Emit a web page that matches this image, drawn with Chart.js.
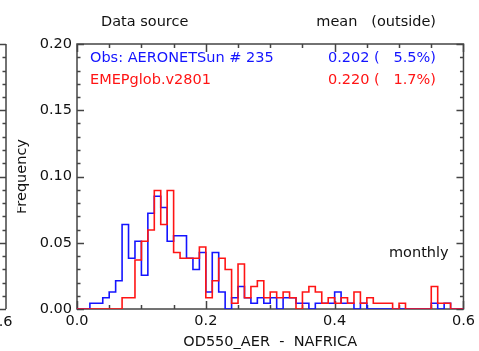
<!DOCTYPE html>
<html><head><meta charset="utf-8">
<script src="https://cdn.jsdelivr.net/npm/chart.js@4.4.1/dist/chart.umd.min.js"></script>
<style>html,body{margin:0;padding:0;background:#fff;overflow:hidden}</style>
</head><body>
<canvas id="c" width="479" height="351" style="display:block"></canvas>
<script>
// ---- data ----
const binWidth = 0.01;
const binStarts = Array.from({length: 60}, (_, i) => +(i * binWidth).toFixed(2));
const obsFreq = [
  0, 0, 0.0043, 0.0043, 0.0085, 0.0128, 0.0213, 0.0638, 0.0383, 0.0511,
  0.0255, 0.0723, 0.0851, 0.0766, 0.0511, 0.0553, 0.0553, 0.0383, 0.0298, 0.0426,
  0.0128, 0.0426, 0.0128, 0, 0.0085, 0.0170, 0.0085, 0.0043, 0.0085, 0.0043,
  0.0085, 0, 0.0085, 0.0085, 0.0043, 0.0043, 0, 0.0043, 0.0043, 0.0043,
  0.0128, 0.0043, 0.0043, 0, 0.0043, 0, 0, 0, 0, 0,
  0, 0, 0, 0, 0, 0.0043, 0, 0.0043, 0, 0
];
const modFreq = [
  0, 0, 0, 0, 0, 0, 0, 0.0085, 0.0085, 0.0370,
  0.0511, 0.0596, 0.0894, 0.0638, 0.0894, 0.0426, 0.0383, 0.0383, 0.0383, 0.0468,
  0.0085, 0.0213, 0.0383, 0.0298, 0.0043, 0.0340, 0.0085, 0.0170, 0.0213, 0.0085,
  0.0128, 0.0085, 0.0128, 0.0085, 0, 0.0128, 0.0170, 0.0128, 0.0043, 0.0085,
  0.0043, 0.0085, 0.0043, 0.0128, 0.0043, 0.0085, 0.0043, 0.0043, 0.0043, 0,
  0.0043, 0, 0, 0, 0, 0.0170, 0.0043, 0.0043, 0, 0
];
const seriesNames   = ['Obs: AERONETSun # 235', 'EMEPglob.v2801'];
const seriesMeans   = ['0.202', '0.220'];
const seriesOutside = ['5.5%', '1.7%'];
const seriesColors  = ['rgb(20,20,255)', 'rgb(255,20,20)'];
const yTickValues = [0, 0.05, 0.10, 0.15, 0.20];
const xTickValues = [0, 0.2, 0.4, 0.6];
const xTitle = 'OD550_AER  -  NAFRICA';
const yTitle = 'Frequency';
const headerLeft = 'Data source';
const headerRight = 'mean   (outside)';
const note = 'monthly';

const FONT = {family: '"DejaVu Sans", sans-serif', size: 14.5};
const TXT = '#111';

function stepPoints(vals) {
  const pts = binStarts.map((x, i) => ({x: x, y: vals[i]}));
  pts.push({x: +(binStarts.length * binWidth).toFixed(2), y: vals[vals.length - 1]});
  return pts;
}

const framePlugin = {
  id: 'frame',
  beforeDatasetsDraw(chart) {
    const {ctx, chartArea: a, scales: {x, y}} = chart;
    ctx.save();
    ctx.strokeStyle = '#444';
    ctx.lineWidth = 1.5;
    ctx.strokeRect(a.left, a.top, a.right - a.left, a.bottom - a.top);
    ctx.beginPath();
    for (let i = 0; i <= 20; i++) {
      const py = Math.round(y.getPixelForValue(i * 0.01)) + 0.5;
      const L = i % 5 === 0 ? 7 : 3.5;
      ctx.moveTo(a.left, py); ctx.lineTo(a.left + L, py);
      ctx.moveTo(a.right, py); ctx.lineTo(a.right - L, py);
    }
    for (let i = 0; i <= 12; i++) {
      const px = Math.round(x.getPixelForValue(i * 0.05)) + 0.5;
      const L = i % 4 === 0 ? 8 : 4;
      ctx.moveTo(px, a.bottom); ctx.lineTo(px, a.bottom - L);
      ctx.moveTo(px, a.top); ctx.lineTo(px, a.top + L);
    }
    ctx.stroke();
    ctx.restore();
  },
  afterDraw(chart) {
    const {ctx, chartArea: a, scales: {y}} = chart;
    ctx.save();
    // neighbouring panel overlaps the left strip
    ctx.fillStyle = '#fff';
    ctx.fillRect(0, a.top - 4, 17, a.bottom - a.top + 8);
    ctx.strokeStyle = '#444';
    ctx.lineWidth = 1.5;
    ctx.beginPath();
    ctx.moveTo(6, a.top); ctx.lineTo(6, a.bottom);
    for (let i = 0; i <= 20; i++) {
      const py = Math.round(y.getPixelForValue(i * 0.01)) + 0.5;
      ctx.moveTo(6, py); ctx.lineTo(6 - (i % 5 === 0 ? 7 : 3.5), py);
    }
    ctx.stroke();

    ctx.font = FONT.size + 'px ' + FONT.family;
    ctx.textBaseline = 'middle';
    ctx.fillStyle = TXT;
    ctx.textAlign = 'left';
    ctx.fillText(headerLeft, 101, 22);
    ctx.textAlign = 'right';
    ctx.fillText(headerRight, 436, 22);
    for (let i = 0; i < seriesNames.length; i++) {
      const ty = 58 + i * 22;
      ctx.fillStyle = seriesColors[i];
      ctx.textAlign = 'left';
      ctx.fillText(seriesNames[i], 90, ty);
      ctx.textAlign = 'right';
      ctx.fillText(seriesMeans[i] + ' (   ' + seriesOutside[i] + ')', 436, ty);
    }
    ctx.fillStyle = TXT;
    ctx.textAlign = 'left';
    ctx.fillText(note, 389, 253);
    ctx.textAlign = 'center';
    ctx.fillText('0.6', 1, 322);
    ctx.restore();
  }
};

new Chart(document.getElementById('c'), {
  type: 'line',
  data: {
    datasets: [
      {label: seriesNames[1], data: stepPoints(modFreq), borderColor: seriesColors[1], borderWidth: 1.6, stepped: true, pointRadius: 0, fill: false},
      {label: seriesNames[0], data: stepPoints(obsFreq), borderColor: seriesColors[0], borderWidth: 1.6, stepped: true, pointRadius: 0, fill: false}
    ]
  },
  options: {
    responsive: false,
    animation: false,
    devicePixelRatio: 1,
    layout: {padding: {top: 44, right: 9, bottom: 0, left: 0}, autoPadding: false},
    plugins: {legend: {display: false}, tooltip: {enabled: false}},
    scales: {
      x: {
        type: 'linear', min: 0, max: 0.6,
        afterBuildTicks: s => { s.ticks = xTickValues.map(v => ({value: v})); },
        ticks: {padding: 4, color: TXT, font: FONT, maxRotation: 0, autoSkip: false, callback: v => Number(v).toFixed(1)},
        grid: {display: false, drawTicks: false},
        border: {display: false},
        title: {display: true, text: xTitle, color: TXT, font: FONT, padding: {top: 0, bottom: 0}},
        afterFit: s => { s.height = 42; }
      },
      y: {
        min: 0, max: 0.2,
        afterBuildTicks: s => { s.ticks = yTickValues.map(v => ({value: v})); },
        ticks: {padding: 5, color: TXT, font: FONT, callback: v => Number(v).toFixed(2)},
        grid: {display: false, drawTicks: false},
        border: {display: false},
        title: {display: true, text: yTitle, color: TXT, font: FONT, padding: {top: 14, bottom: 0}},
        afterFit: s => { s.width = 77; }
      }
    }
  },
  plugins: [framePlugin]
});
</script>
</body></html>
